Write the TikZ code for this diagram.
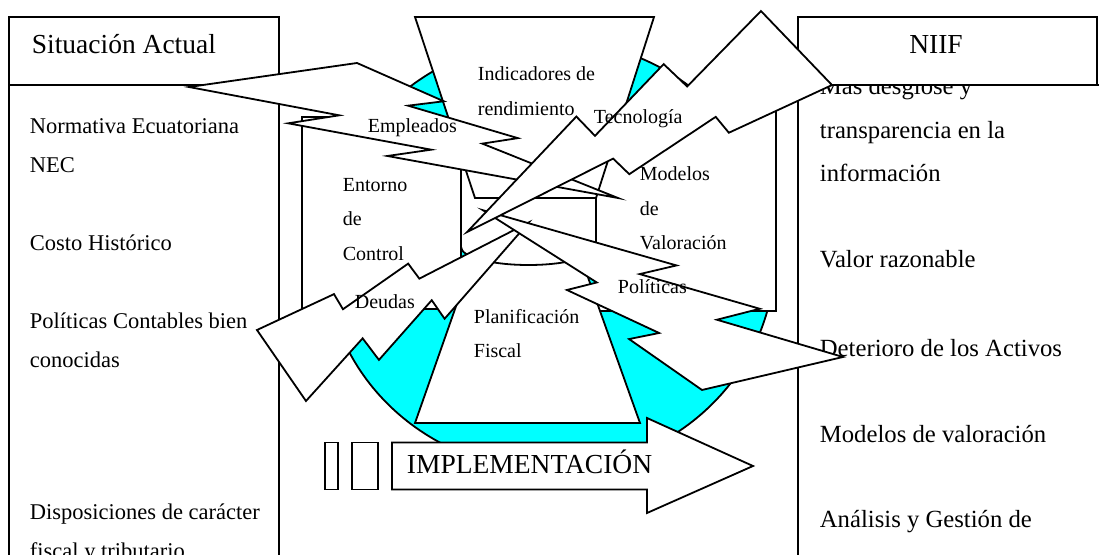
\documentclass[tikz,border=0pt]{standalone}
\usepackage{fontspec}
\setmainfont{Liberation Serif}
\definecolor{aqua}{RGB}{0,255,255}
% lightning bolt: origin X0, u-vector, v-vector (X0,Xu,Xv,Y0,Yu,Yv)
\newcommand\bolt[6]{%
  \draw[boltshape] ({#1+(#2)*0.39157},{#4+(#5)*0.39157})
  \foreach \pu/\pv in {0/0.18162,0.35019/0.38963,0.23116/0.45,0.56468/0.6437,0.46236/0.69139,1/1,0.6837/0.59773,0.76657/0.5563,0.51065/0.31667,0.59403/0.28333}
  { -- ({#1+(#2)*\pu+(#3)*\pv},{#4+(#5)*\pu+(#6)*\pv}) } -- cycle;}

\begin{document}
\begin{tikzpicture}[x=1pt,y=-1pt,line width=1.8pt,line join=miter,
  box/.style={draw,fill=white},
  boltshape/.style={draw,fill=white},
  lab/.style={anchor=base west,inner sep=0pt,font=\fontsize{22.5}{27}\selectfont},
  niif/.style={anchor=base west,inner sep=0pt,font=\fontsize{24.7}{30}\selectfont},
  head/.style={inner sep=0pt,font=\fontsize{27.5}{33}\selectfont},
  mid/.style={anchor=base west,inner sep=0pt,font=\fontsize{20}{24}\selectfont}]
\useasboundingbox (0,0) rectangle (1099,554);
\clip (0,0) rectangle (1099,554);

% left panel
\draw[box] (9,85) rectangle (279,600);
\draw[box] (9,17) rectangle (279,85);
\node[head,anchor=base west] (actual) at (31,53) {Situación Actual};
\node[lab] (nec1) at (29,133) {Normativa Ecuatoriana};
\node[lab] (nec2) at (29,172) {NEC};
\node[lab] (costo) at (29,250) {Costo Histórico};
\node[lab] (pol1) at (29,328) {Políticas Contables bien};
\node[lab] (pol2) at (29,367) {conocidas};
\node[lab] (disp1) at (29,519) {Disposiciones de carácter};
\node[lab] (disp2) at (29,558) {fiscal y tributario};

% right panel
\draw[box] (798,85) rectangle (1120,600);
\node[niif] (desg1) at (819,94) {Mas desglose y};
\node[niif] (desg2) at (819,138) {transparencia en la};
\node[niif] (desg3) at (819,181) {información};
\node[niif] (valor) at (819,267) {Valor razonable};
\node[niif] (deter) at (819,356) {Deterioro de los Activos};
\node[niif] (model) at (819,442) {Modelos de valoración};
\node[niif] (anal) at (819,527) {Análisis y Gestión de};
\draw[box] (798,17) rectangle (1097,85);
\node[head,anchor=base] (niifh) at (936,53) {NIIF};

% circle and the pieces on it
\draw[fill=aqua] (550,255) ellipse [x radius=225pt, y radius=215pt];
\draw[box] (302,117) rectangle (461,309);
\draw[box] (596,105) rectangle (776,311);
\draw[box] (474,255) -- (580,255) -- (640,423) -- (415,423) -- cycle;
\draw[box] (461,165) -- (461,247) arc[start angle=180, end angle=360, x radius=67.5pt, y radius=18pt] -- (596,165) -- cycle;
\draw[box] (415,17) -- (654,17) -- (596,198) -- (475,198) -- cycle;

% bolts
\bolt{189}{429}{0}{62.6}{1.0}{134.4}
\bolt{256.7}{0.7}{271.3}{400.6}{-180.3}{2.2}
\bolt{843}{-360.1}{0}{389.7}{0.7}{-180.2}
\bolt{828.3}{9.4}{-370.7}{6.5}{200.6}{25.0}

% implementation arrow
\draw[box] (325,442.5) rectangle (338,489.5);
\draw[box] (352,442.5) rectangle (378,489.5);
\draw[box] (392,442.5) -- (647,442.5) -- (647,418) -- (753,466) -- (647,513) -- (647,489.5) -- (392,489.5) -- cycle;
\node[anchor=base west,inner sep=0pt,font=\fontsize{27.5}{33}\selectfont] (impl) at (406,473) {IMPLEMENTACIÓN};

% labels
\node[mid] (ind1) at (477,80) {Indicadores de};
\node[mid] (ind2) at (477,115) {rendimiento};
\node[mid] (tec) at (593,123) {Tecnología};
\node[mid] (emp) at (367,132) {Empleados};
\node[mid] (ent1) at (342,191) {Entorno};
\node[mid] (ent2) at (342,225) {de};
\node[mid] (ent3) at (342,260) {Control};
\node[mid] (mod1) at (639,180) {Modelos};
\node[mid] (mod2) at (639,215) {de};
\node[mid] (mod3) at (639,249) {Valoración};
\node[mid] (deu) at (354,308) {Deudas};
\node[mid] (pla1) at (473,323) {Planificación};
\node[mid] (pla2) at (473,357) {Fiscal};
\node[mid] (pol) at (617,293) {Políticas};
\end{tikzpicture}
\end{document}
